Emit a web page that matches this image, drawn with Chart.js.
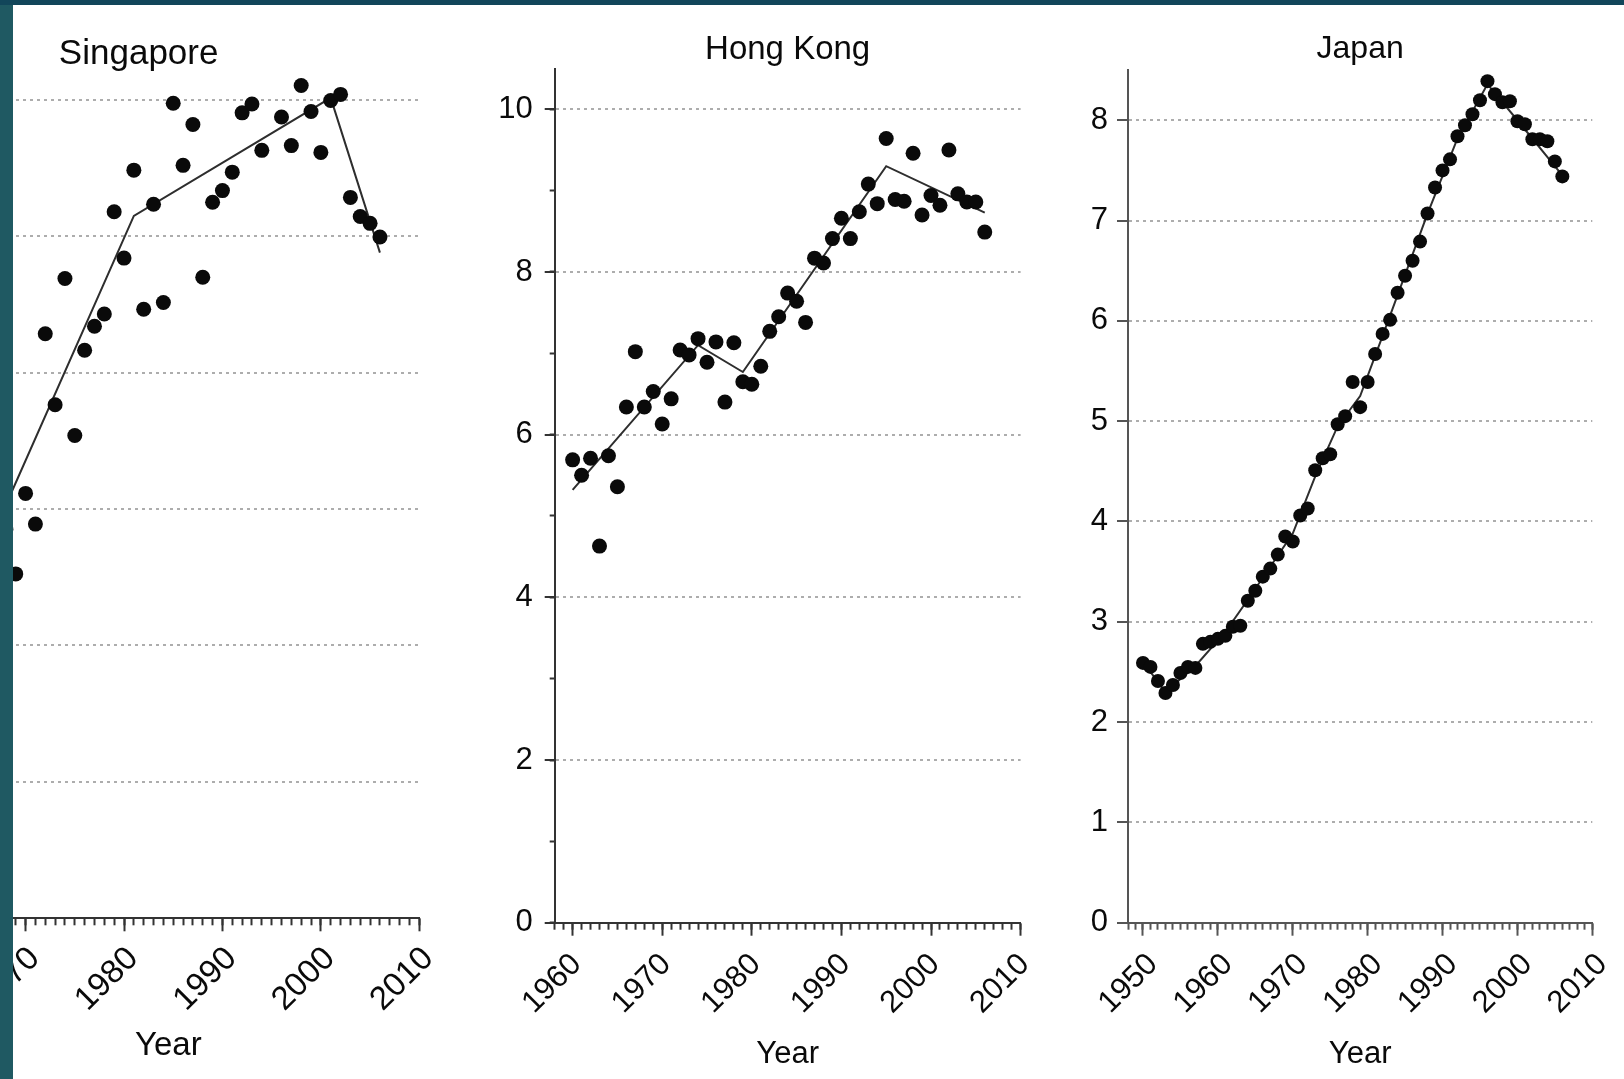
<!DOCTYPE html>
<html>
<head>
<meta charset="utf-8">
<script src="https://cdn.jsdelivr.net/npm/chart.js@4.4.1/dist/chart.umd.min.js"></script>
<style>
  html, body { margin: 0; padding: 0; background: #fff; }
  body { width: 1624px; height: 1079px; position: relative; overflow: hidden; }
  canvas { position: absolute; top: 0; }
  #sg { left: -142px; }
  #hk { left: 440px; }
  #jp { left: 1040px; }
  .strip-top { position: absolute; left: 0; top: 0; width: 1624px; height: 5px; background: #12465a; }
  .strip-left { position: absolute; left: 0; top: 5px; width: 13px; height: 1074px; background: #1f5962; }
</style>
</head>
<body>
<canvas id="sg" width="590" height="1079"></canvas>
<canvas id="hk" width="600" height="1079"></canvas>
<canvas id="jp" width="584" height="1079"></canvas>
<div class="strip-top"></div>
<div class="strip-left"></div>
<script>
// Singapore (left part of the panel is cut off in the source)
const sgYears = [1968, 1969, 1970, 1971, 1972, 1973, 1974, 1975, 1976, 1977, 1978, 1979, 1980, 1981, 1982, 1983, 1984, 1985, 1986, 1987,
                 1988, 1989, 1990, 1991, 1992, 1993, 1994, 1996, 1997, 1998, 1999, 2000, 2001, 2002, 2003, 2004, 2005, 2006];
const sgValues = [5.70, 5.05, 6.23, 5.78, 8.57, 7.53, 9.38, 7.08, 8.33, 8.68, 8.86, 10.36, 9.68, 10.97, 8.93, 10.47, 9.03, 11.95, 11.04, 11.64,
                  9.40, 10.50, 10.67, 10.94, 11.81, 11.94, 11.26, 11.75, 11.33, 12.21, 11.83, 11.23, 11.99, 12.08, 10.57, 10.29, 10.19, 9.99];
const sgFitYears = [1968, 1981, 2001, 2006];
const sgFitValues = [6.06, 10.30, 12.03, 9.76];

// Hong Kong
const hkYears = [1960, 1961, 1962, 1963, 1964, 1965, 1966, 1967, 1968, 1969, 1970, 1971, 1972, 1973, 1974, 1975, 1976, 1977, 1978, 1979,
                 1980, 1981, 1982, 1983, 1984, 1985, 1986, 1987, 1988, 1989, 1990, 1991, 1992, 1993, 1994, 1995, 1996, 1997, 1998, 1999,
                 2000, 2001, 2002, 2003, 2004, 2005, 2006];
const hkValues = [5.69, 5.50, 5.71, 4.63, 5.74, 5.36, 6.34, 7.02, 6.34, 6.53, 6.13, 6.44, 7.04, 6.98, 7.18, 6.89, 7.14, 6.40, 7.13, 6.65,
                  6.62, 6.84, 7.27, 7.45, 7.74, 7.64, 7.38, 8.17, 8.11, 8.41, 8.66, 8.41, 8.74, 9.08, 8.84, 9.64, 8.89, 8.87, 9.46, 8.70,
                  8.94, 8.82, 9.50, 8.96, 8.86, 8.86, 8.49];
const hkFitYears = [1960, 1974, 1979, 1995, 2006];
const hkFitValues = [5.32, 7.10, 6.77, 9.30, 8.73];

// Japan
const jpYears = [1950, 1951, 1952, 1953, 1954, 1955, 1956, 1957, 1958, 1959, 1960, 1961, 1962, 1963, 1964, 1965, 1966, 1967, 1968, 1969,
                 1970, 1971, 1972, 1973, 1974, 1975, 1976, 1977, 1978, 1979, 1980, 1981, 1982, 1983, 1984, 1985, 1986, 1987, 1988, 1989,
                 1990, 1991, 1992, 1993, 1994, 1995, 1996, 1997, 1998, 1999, 2000, 2001, 2002, 2003, 2004, 2005, 2006];
const jpValues = [2.59, 2.55, 2.41, 2.29, 2.37, 2.49, 2.55, 2.54, 2.78, 2.80, 2.83, 2.86, 2.95, 2.96, 3.21, 3.31, 3.45, 3.53, 3.67, 3.85,
                  3.80, 4.06, 4.13, 4.51, 4.63, 4.67, 4.97, 5.05, 5.39, 5.14, 5.39, 5.67, 5.87, 6.01, 6.28, 6.45, 6.60, 6.79, 7.07, 7.33,
                  7.50, 7.61, 7.84, 7.95, 8.06, 8.20, 8.39, 8.26, 8.18, 8.19, 7.99, 7.96, 7.81, 7.81, 7.79, 7.59, 7.44];
const jpFitYears = [1950, 1953, 1957, 1961, 1964, 1970, 1973, 1976, 1979, 1982, 1988, 1992, 1996, 2000, 2006];
const jpFitValues = [2.60, 2.30, 2.56, 2.90, 3.22, 3.88, 4.45, 4.95, 5.25, 5.85, 7.07, 7.82, 8.36, 8.00, 7.45];

const FONT = '"Liberation Sans", Arial, Helvetica, sans-serif';
const INK = '#0a0a0a';
const GRID = '#adadad';

function pts(xs, ys) {
    return xs.map((x, i) => ({ x, y: ys[i] }));
}

function noPad(s) {
    s.paddingLeft = 0; s.paddingRight = 0; s.paddingTop = 0; s.paddingBottom = 0;
}

function panel(id, p) {
    const scales = {
        x: {
            type: 'linear', position: 'bottom', weight: 10, min: p.xMin, max: 2010,
            afterFit: s => { s.height = p.xHeight; noPad(s); },
            border: { display: true, color: p.axis, width: 2 },
            grid: { drawOnChartArea: false, tickLength: 13, tickColor: p.axis, tickWidth: 2 },
            ticks: {
                stepSize: 10, includeBounds: false, autoSkip: false, minRotation: 45, maxRotation: 45,
                padding: p.xTickPad, labelOffset: p.labelOffset, color: INK,
                font: { family: FONT, size: p.tickSize },
                callback: v => String(v)
            },
            title: {
                display: true, text: 'Year', color: INK,
                font: { family: FONT, size: p.yearSize, lineHeight: 1 },
                padding: { top: 0, bottom: p.yearBottom }
            }
        },
        // minor year ticks, no space of their own
        xm: {
            type: 'linear', position: 'bottom', weight: 0, min: p.xMin, max: 2010,
            afterFit: s => { s.height = 0; noPad(s); },
            border: { display: false },
            grid: { drawOnChartArea: false, tickLength: 7, tickColor: p.axis, tickWidth: 2 },
            ticks: { display: false, stepSize: 1, includeBounds: false, autoSkip: false }
        },
        y: {
            type: 'linear', position: 'left', weight: 10, min: 0, max: p.yMax,
            afterFit: s => { s.width = p.yWidth; noPad(s); },
            border: { display: true, color: p.axis, width: 2, dash: [3, 4] },
            grid: {
                color: ctx => (ctx.tick && ctx.tick.value === 0) ? 'rgba(0,0,0,0)' : GRID,
                lineWidth: 2, tickLength: p.yTickLen, tickColor: p.axis, tickWidth: 2
            },
            ticks: {
                stepSize: p.yStep, includeBounds: false, padding: p.yTickPad, color: INK,
                font: { family: FONT, size: p.tickSize },
                callback: v => String(v)
            }
        }
    };
    if (p.yMinor) {
        scales.ym = {
            type: 'linear', position: 'left', weight: 0, min: 0, max: p.yMax,
            afterFit: s => { s.width = 0; noPad(s); },
            border: { display: false },
            grid: { drawOnChartArea: false, tickLength: 5, tickColor: p.axis, tickWidth: 2 },
            ticks: { display: false, stepSize: p.yMinor, includeBounds: false }
        };
    }

    return new Chart(document.getElementById(id), {
        type: 'scatter',
        data: {
            datasets: [
                {
                    data: pts(p.years, p.values),
                    pointRadius: p.dot, pointHoverRadius: p.dot,
                    pointBackgroundColor: INK, pointBorderWidth: 0
                },
                {
                    data: pts(p.fitYears, p.fitValues),
                    showLine: true, pointRadius: 0, pointHoverRadius: 0,
                    borderColor: '#2e2e2e', borderWidth: 2, tension: 0
                }
            ]
        },
        options: {
            responsive: false, animation: false, events: [],
            layout: { padding: { left: 0, top: 0, bottom: 0, right: p.padRight } },
            plugins: {
                legend: { display: false },
                tooltip: { enabled: false },
                title: {
                    display: true, text: p.title, color: INK, fullSize: p.titleFull,
                    font: { family: FONT, size: p.titleSize, weight: 'normal', lineHeight: 1 },
                    padding: { top: p.titleTop, bottom: p.titleBottom }
                }
            },
            scales
        }
    });
}

// full-width title box runs from the canvas left edge to the plot's right edge
panel('sg', {
    title: 'Singapore', titleFull: true, titleSize: 35, titleTop: 37, titleBottom: 0.6,
    years: sgYears, values: sgValues, fitYears: sgFitYears, fitValues: sgFitValues, dot: 7.5,
    xMin: 1959, yMax: 12.4, yStep: 2, yMinor: 0, yTickLen: 10, yTickPad: 12,
    yWidth: 59.3, padRight: 28.7, xHeight: 160.7,
    tickSize: 33, xTickPad: 8, labelOffset: 9, yearSize: 33, yearBottom: 17, axis: '#333'
});

panel('hk', {
    title: 'Hong Kong', titleFull: false, titleSize: 33, titleTop: 33, titleBottom: 2.6,
    years: hkYears, values: hkValues, fitYears: hkFitYears, fitValues: hkFitValues, dot: 7.5,
    xMin: 1958, yMax: 10.5, yStep: 2, yMinor: 1, yTickLen: 10, yTickPad: 12,
    yWidth: 114.7, padRight: 19.4, xHeight: 156.3,
    tickSize: 31, xTickPad: 10.6, labelOffset: 4, yearSize: 31, yearBottom: 9.5, axis: '#333'
});

panel('jp', {
    title: 'Japan', titleFull: false, titleSize: 32, titleTop: 32.7, titleBottom: 5.4,
    years: jpYears, values: jpValues, fitYears: jpFitYears, fitValues: jpFitValues, dot: 7,
    xMin: 1948, yMax: 8.5, yStep: 1, yMinor: 0, yTickLen: 11, yTickPad: 9,
    yWidth: 88, padRight: 31.7, xHeight: 156.3,
    tickSize: 31, xTickPad: 10.6, labelOffset: 10, yearSize: 31, yearBottom: 9.5, axis: '#555'
});
</script>
</body>
</html>
